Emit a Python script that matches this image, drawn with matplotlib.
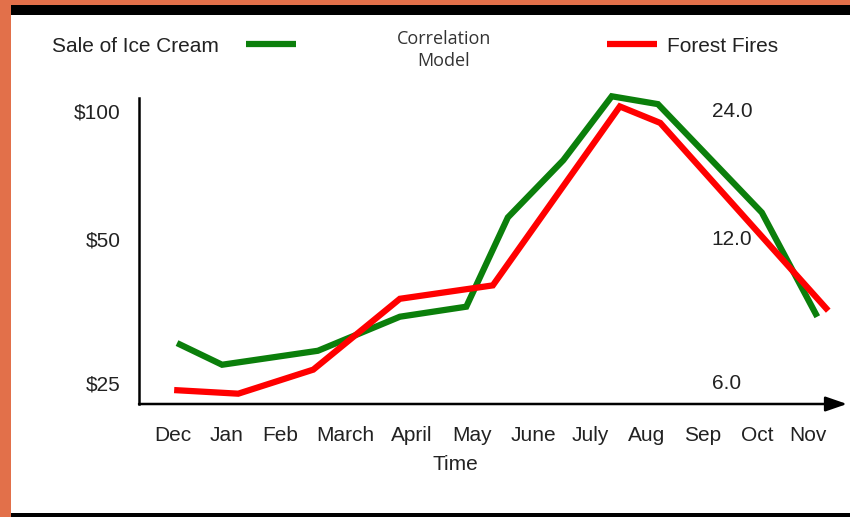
import numpy as np
import matplotlib
matplotlib.use('Agg')
import matplotlib.pyplot as plt
from matplotlib.patches import Rectangle
from matplotlib.lines import Line2D

plt.rcParams['font.family'] = ['Liberation Sans', 'DejaVu Sans']

months = ['Dec', 'Jan', 'Feb', 'March', 'April', 'May', 'June', 'July',
          'Aug', 'Sep', 'Oct', 'Nov']
# label centres along the time axis (months from Dec)
month_pos = [0, 0.92, 1.85, 2.98, 4.14, 5.18, 6.24, 7.23, 8.21, 9.17, 10.12, 11]

# ice cream sales ($)
ice_x = [0.07, 0.85, 2.51, 3.93, 5.08, 5.80, 6.76, 7.60, 8.40, 10.20, 11.16]
ice_sales = [30.3, 27.3, 29.2, 34.4, 36.1, 56.2, 76.6, 108.3, 103.8, 57.7, 34.4]

# forest fires (right hand scale)
fire_x = [0.02, 1.13, 2.43, 3.93, 5.54, 7.74, 8.44, 11.35]
fires = [5.8, 5.7, 6.4, 9.0, 9.6, 24.6, 22.5, 8.5]

sales_ticks = [25, 50, 100]
fire_ticks = [6.0, 12.0, 24.0]
fire_to_sales = 100 / 24.0

green = '#0b7f0b'
red = '#ff0000'
W, H = 850, 517


def fwd(v):
    with np.errstate(divide='ignore', invalid='ignore'):
        u = np.log2(np.asarray(v, dtype=float) / 50)
    return np.where(u < 0, u * 144 / 128, u)


def inv(f):
    f = np.asarray(f, dtype=float)
    return 50 * 2 ** np.where(f < 0, f * 128 / 144, f)


fig = plt.figure(figsize=(W / 100, H / 100), dpi=100, facecolor='#e2704a')
fig.patches.append(Rectangle((11 / W, 0), 1, (H - 5) / H, transform=fig.transFigure,
                             facecolor='black', zorder=-3))
fig.patches.append(Rectangle((11 / W, 4 / H), 1, (513 - 15) / H, transform=fig.transFigure,
                             facecolor='white', zorder=-2))

ax = fig.add_axes([139 / W, (H - 404) / H, (847 - 139) / W, (404 - 98) / H])
ax.patch.set_alpha(0)
ax.set_yscale('function', functions=(fwd, inv))
ax.set_ylim(22.6, 107.3)
ax.set_xlim(-0.589, 11.675)

ax.plot(ice_x, ice_sales, color=green, lw=4.5, clip_on=False, zorder=3,
        solid_joinstyle='miter', solid_capstyle='butt')
ax.plot(fire_x, np.array(fires) * fire_to_sales, color=red, lw=4.5, clip_on=False,
        zorder=4, solid_joinstyle='miter', solid_capstyle='butt')

ax.set_yticks(sales_ticks, labels=[f'\\${v}' for v in sales_ticks])
ax.set_xticks(month_pos, labels=months)
ax.minorticks_off()
ax.tick_params(axis='y', length=0, pad=13, labelsize=15, labelcolor='#222222')
ax.tick_params(axis='x', length=0, pad=16, labelsize=15, labelcolor='#222222')

for s in ['top', 'right', 'bottom']:
    ax.spines[s].set_visible(False)
ax.spines['left'].set_linewidth(1.8)

ax.annotate('', xy=(1, 0), xytext=(0, 0), xycoords='axes fraction',
            arrowprops=dict(arrowstyle='-|>,head_length=1.3,head_width=0.45',
                            lw=1.8, color='black', shrinkA=0, shrinkB=0,
                            mutation_scale=10),
            annotation_clip=False)

for v, f in zip(sales_ticks, fire_ticks):
    ax.text(0.809, v, f'{f:.1f}', transform=ax.get_yaxis_transform(),
            ha='left', va='center', fontsize=15, color='#222222')

ax.set_xlabel('Time', fontsize=15, color='#222222', va='center')
ax.xaxis.set_label_coords((455 - 139) / 708, (404 - 465) / 306)

ice_handle = Line2D([], [], color=green, lw=4.5, solid_capstyle='butt')
fire_handle = Line2D([], [], color=red, lw=4.5, solid_capstyle='butt')
fig.legend(handles=[ice_handle], labels=['Sale of Ice Cream'], loc='center left',
           bbox_to_anchor=(52 / W, (H - 46) / H), frameon=False, markerfirst=False,
           handlelength=2.4, handletextpad=1.3, borderpad=0, borderaxespad=0,
           fontsize=15, labelcolor='#222222')
fig.legend(handles=[fire_handle], labels=['Forest Fires'], loc='center left',
           bbox_to_anchor=(607 / W, (H - 46) / H), frameon=False,
           handlelength=2.4, handletextpad=0.5, borderpad=0, borderaxespad=0,
           fontsize=15, labelcolor='#222222')

fig.text(444 / W, (H - 50) / H, 'Correlation\nModel', ha='center', va='center',
         family=['Open Sans', 'DejaVu Sans'], fontsize=13, color='#333333',
         linespacing=1.25)

fig.savefig('out.png', dpi=100, facecolor=fig.get_facecolor())
